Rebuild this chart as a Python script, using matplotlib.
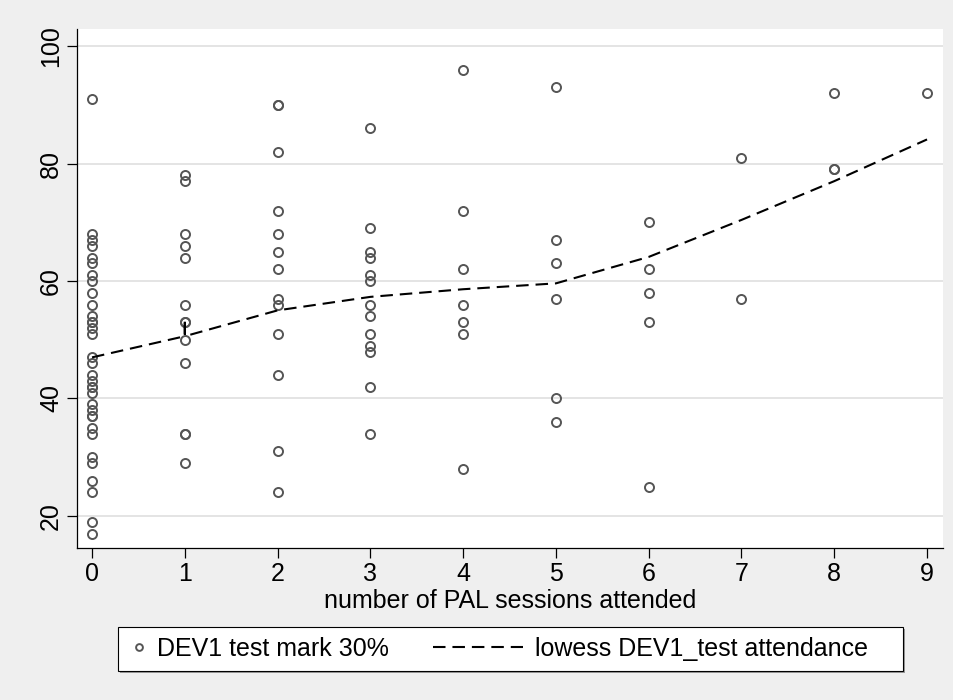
import matplotlib.pyplot as plt
from matplotlib.patches import Rectangle

plt.rcParams['font.family'] = ['Liberation Sans', 'DejaVu Sans']
plt.rcParams['lines.scale_dashes'] = False

W, H = 954, 700

# DEV1 test marks, one list per number of PAL sessions attended
marks_s0 = [91, 68, 67, 66, 64, 63, 61, 60, 58, 56, 54, 53, 53, 52, 51, 47, 46,
            44, 43, 42, 42, 41, 39, 38, 37, 37, 35, 34, 30, 29, 26, 24, 19, 17]
marks_s1 = [78, 77, 68, 66, 64, 56, 53, 53, 50, 46, 34, 34, 29]
marks_s2 = [90, 90, 82, 72, 68, 65, 62, 57, 56, 51, 44, 31, 24]
marks_s3 = [86, 69, 65, 64, 61, 60, 56, 54, 51, 49, 48, 42, 34]
marks_s4 = [96, 72, 62, 56, 53, 51, 28]
marks_s5 = [93, 67, 63, 57, 40, 36]
marks_s6 = [70, 62, 58, 53, 25]
marks_s7 = [81, 57]
marks_s8 = [92, 79, 79]
marks_s9 = [92]

# lowess fit (Stata draws the tied fits at x=1 as a small spike)
lowess_x = [0, 1, 1, 1, 2, 3, 4, 5, 6, 7, 8, 9]
lowess_y = [47.0, 50.6, 53.6, 50.6, 55.0, 57.3, 58.6, 59.6, 64.1, 70.4, 77.0, 84.1]

x_ticks = list(range(10))
y_ticks = [20, 40, 60, 80, 100]

sessions, marks = [], []
for n, col in enumerate([marks_s0, marks_s1, marks_s2, marks_s3, marks_s4,
                         marks_s5, marks_s6, marks_s7, marks_s8, marks_s9]):
    sessions += [n] * len(col)
    marks += col

fig = plt.figure(figsize=(W / 100, H / 100), dpi=100, facecolor='#efefef')
ax = fig.add_axes([77 / W, 1 - 548 / H, (943 - 77) / W, (548 - 29) / H])
ax.set_facecolor('white')
ax.grid(axis='y', color='#e4e4e4', lw=1.4)
ax.set_axisbelow(True)

pts, = ax.plot(sessions, marks, 'o', ms=6.5, mfc='none', mec='#555555', mew=1.4,
               label='DEV1 test mark 30%')
line, = ax.plot(lowess_x, lowess_y, color='black', lw=1.5, dashes=(9, 5),
                label='lowess DEV1_test attendance')

ax.set_xlim(-0.162, 9.172)
ax.set_ylim(14.55, 102.9)
ax.set_xticks(x_ticks)
ax.set_yticks(y_ticks)
for s in ['top', 'right']:
    ax.spines[s].set_visible(False)
for s in ['left', 'bottom']:
    ax.spines[s].set_linewidth(0.9)
ax.tick_params(length=7, width=0.9, labelsize=18, pad=3)
ax.tick_params(axis='y', labelrotation=90)
for lbl in ax.get_yticklabels():
    lbl.set_va('center')
ax.set_xlabel('number of PAL sessions attended', fontsize=18, labelpad=2)

# legend box with a thin shadow, like Stata
fig.add_artist(Rectangle((120 / W, 1 - 673 / H), 785 / W, 44 / H,
                         transform=fig.transFigure, fc='#9a9a9a', ec='none'))
fig.add_artist(Rectangle((118 / W, 1 - 671 / H), 785 / W, 44 / H,
                         transform=fig.transFigure, fc='white', ec='black', lw=0.8))
fig.legend([pts], [pts.get_label()], loc='center left',
           bbox_to_anchor=(132 / W, 1 - 649 / H), frameon=False, fontsize=18,
           handlelength=0.6, handletextpad=0.4, borderpad=0, borderaxespad=0,
           markerscale=0.75)
fig.legend([line], [line.get_label()], loc='center left',
           bbox_to_anchor=(433 / W, 1 - 649 / H), frameon=False, fontsize=18,
           handlelength=3.6, handletextpad=0.5, borderpad=0, borderaxespad=0)

fig.savefig('out.png', dpi=100, facecolor=fig.get_facecolor())
